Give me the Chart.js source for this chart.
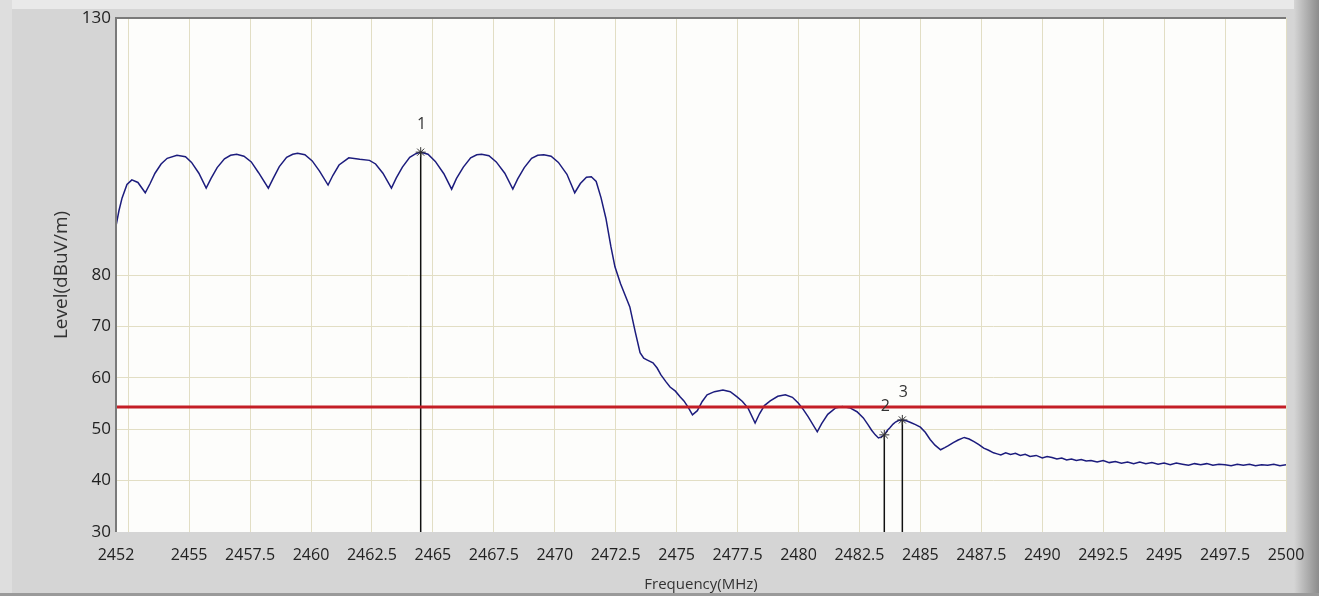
<!DOCTYPE html>
<html>
<head>
<meta charset="utf-8">
<script src="https://cdn.jsdelivr.net/npm/chart.js@4/dist/chart.umd.min.js"></script>
<style>
  html, body { margin: 0; padding: 0; background: #d4d4d4; }
  canvas { display: block; }
</style>
</head>
<body>
<canvas id="spectrumChart" width="1319" height="596"></canvas>
<script>
// Measured trace (frequency in MHz, level in dBuV/m)
const freqs = [
    2452.00, 2452.12, 2452.25, 2452.45, 2452.65, 2452.90, 2453.20, 2453.40, 2453.60, 2453.85,
    2454.10, 2454.50, 2454.85, 2455.10, 2455.40, 2455.70, 2455.90, 2456.15, 2456.45, 2456.70,
    2456.95, 2457.25, 2457.55, 2457.85, 2458.25, 2458.45, 2458.70, 2459.00, 2459.25, 2459.45,
    2459.75, 2460.05, 2460.35, 2460.70, 2460.90, 2461.15, 2461.55, 2462.00, 2462.40, 2462.65,
    2462.95, 2463.30, 2463.50, 2463.75, 2464.05, 2464.30, 2464.50, 2464.80, 2465.10, 2465.45,
    2465.77, 2465.97, 2466.25, 2466.55, 2466.80, 2467.00, 2467.30, 2467.60, 2467.95, 2468.28,
    2468.48, 2468.75, 2469.05, 2469.30, 2469.55, 2469.85, 2470.15, 2470.50, 2470.82, 2471.05,
    2471.30, 2471.50, 2471.70, 2471.90, 2472.10, 2472.30, 2472.47, 2472.70, 2472.90, 2473.08,
    2473.30, 2473.50, 2473.65, 2473.78, 2474.03, 2474.20, 2474.35, 2474.55, 2474.73, 2474.95,
    2475.14, 2475.30, 2475.47, 2475.65, 2475.85, 2476.05, 2476.25, 2476.55, 2476.90, 2477.20,
    2477.48, 2477.70, 2477.93, 2478.22, 2478.40, 2478.60, 2478.84, 2479.15, 2479.46, 2479.75,
    2479.99, 2480.20, 2480.40, 2480.77, 2480.95, 2481.20, 2481.51, 2481.80, 2482.13, 2482.40,
    2482.66, 2482.85, 2483.00, 2483.15, 2483.28, 2483.40, 2483.52, 2483.65, 2483.75, 2483.88,
    2483.98, 2484.10, 2484.26, 2484.45, 2484.60, 2484.80, 2485.00, 2485.20, 2485.40, 2485.60,
    2485.83, 2486.00, 2486.15, 2486.35, 2486.55, 2486.80, 2487.00, 2487.20, 2487.40, 2487.60,
    2487.80, 2488.00, 2488.15, 2488.30, 2488.50, 2488.70, 2488.90, 2489.10, 2489.30, 2489.50,
    2489.75, 2490.00, 2490.20, 2490.40, 2490.60, 2490.80, 2491.00, 2491.20, 2491.40, 2491.60,
    2491.80, 2492.00, 2492.25, 2492.50, 2492.75, 2493.00, 2493.25, 2493.50, 2493.75, 2494.00,
    2494.25, 2494.50, 2494.75, 2495.00, 2495.25, 2495.50, 2495.75, 2496.00, 2496.25, 2496.50,
    2496.75, 2497.00, 2497.25, 2497.50, 2497.75, 2498.00, 2498.25, 2498.50, 2498.75, 2499.00,
    2499.25, 2499.50, 2499.75, 2500.00
];
const levels = [
    89.5, 92.5, 95.0, 97.6, 98.5, 98.0, 96.0, 97.8, 99.8, 101.6,
    102.7, 103.3, 103.0, 101.9, 99.8, 96.9, 98.8, 100.9, 102.6, 103.3,
    103.5, 103.1, 102.0, 99.9, 96.9, 98.8, 101.1, 102.9, 103.5, 103.7,
    103.4, 102.2, 100.2, 97.5, 99.4, 101.4, 102.8, 102.5, 102.3, 101.6,
    99.8, 96.9, 98.9, 101.0, 102.9, 103.6, 103.9, 103.5, 102.1, 99.7,
    96.7, 98.8, 101.0, 102.8, 103.4, 103.5, 103.2, 102.0, 99.8, 96.7,
    98.7, 100.9, 102.7, 103.3, 103.4, 103.1, 101.9, 99.6, 96.0, 97.8,
    99.0, 99.1, 98.2, 95.0, 91.0, 85.6, 81.6, 78.3, 75.9, 73.8,
    69.0, 64.9, 63.8, 63.5, 62.9, 61.9, 60.6, 59.3, 58.2, 57.4,
    56.3, 55.5, 54.3, 52.8, 53.6, 55.4, 56.7, 57.3, 57.6, 57.3,
    56.3, 55.4, 54.1, 51.2, 53.0, 54.6, 55.5, 56.4, 56.7, 56.2,
    55.1, 53.8, 52.4, 49.5, 51.1, 52.9, 54.1, 54.4, 54.1, 53.4,
    52.2, 50.9, 49.8, 48.9, 48.3, 48.5, 48.9, 49.8, 50.3, 51.0,
    51.4, 51.7, 51.8, 51.6, 51.3, 50.9, 50.4, 49.4, 48.0, 46.9,
    46.0, 46.4, 46.8, 47.4, 47.9, 48.4, 48.1, 47.6, 47.0, 46.3,
    45.9, 45.4, 45.2, 45.0, 45.4, 45.1, 45.3, 44.9, 45.1, 44.7,
    44.9, 44.4, 44.7, 44.5, 44.2, 44.4, 44.0, 44.2, 43.9, 44.1,
    43.8, 43.9, 43.6, 43.9, 43.5, 43.7, 43.4, 43.6, 43.3, 43.6,
    43.3, 43.5, 43.2, 43.4, 43.1, 43.4, 43.2, 43.0, 43.3, 43.1,
    43.3, 43.0, 43.2, 43.1, 42.9, 43.2, 43.0, 43.2, 42.9, 43.1,
    43.0, 43.2, 42.9, 43.1
];

// Limit line
const limitLevel = 54.3;

// Markers
const markerNames = ["1", "2", "3"];
const markerFreqs = [2464.5, 2483.52, 2484.26];
const markerLevels = [103.9, 48.9, 51.8];

// Axis ticks
const xTicks = [2452, 2452.5, 2455, 2457.5, 2460, 2462.5, 2465, 2467.5, 2470, 2472.5, 2475,
    2477.5, 2480, 2482.5, 2485, 2487.5, 2490, 2492.5, 2495, 2497.5, 2500];
const xHiddenLabels = [2452.5];
const yTicks = [30, 40, 50, 60, 70, 80, 130];

const gridColor = "rgb(226, 222, 196)";
const fontFamily = "'Open Sans', 'Noto Sans', sans-serif";

const traceData = freqs.map((f, i) => ({ x: f, y: levels[i] }));

const datasets = [
    {
        label: "Limit",
        data: [{ x: 2452, y: limitLevel }, { x: 2500, y: limitLevel }],
        borderColor: "rgb(196, 30, 38)",
        borderWidth: 3,
        pointRadius: 0,
        order: 0,
    },
];

markerFreqs.forEach((f, i) => {
    datasets.push({
        label: "Marker " + markerNames[i],
        data: [{ x: f, y: 30 }, { x: f, y: markerLevels[i] }],
        borderColor: "#111",
        borderWidth: 1.5,
        pointRadius: [0, 5],
        pointStyle: "star",
        pointBorderColor: "#333",
        pointBorderWidth: 1,
        order: 1,
    });
});

datasets.push({
    label: "Level",
    data: traceData,
    borderColor: "rgb(28, 28, 125)",
    borderWidth: 1.5,
    pointRadius: 0,
    order: 2,
});

// Background, frame and plot area
const framePlugin = {
    id: "frame",
    beforeDraw(chart) {
        const { ctx, chartArea } = chart;
        const w = chart.width, h = chart.height;
        ctx.save();
        ctx.fillStyle = "#d5d5d5";
        ctx.fillRect(0, 0, w, h);
        ctx.fillStyle = "#e9e9e9";
        ctx.fillRect(0, 0, w, 9);
        ctx.fillStyle = "#dedede";
        ctx.fillRect(0, 0, 12, h);
        const g = ctx.createLinearGradient(1294, 0, w, 0);
        g.addColorStop(0, "#d5d5d5");
        g.addColorStop(1, "#8c8c8c");
        ctx.fillStyle = g;
        ctx.fillRect(1294, 0, w - 1294, h);
        ctx.fillStyle = "#9a9a9a";
        ctx.fillRect(0, h - 3, w, 3);
        ctx.fillStyle = "#fdfdfb";
        ctx.fillRect(chartArea.left, chartArea.top, chartArea.right - chartArea.left, chartArea.bottom - chartArea.top);
        ctx.restore();
    },
    afterDraw(chart) {
        const { ctx, chartArea } = chart;
        ctx.save();
        ctx.strokeStyle = "#7a7a7a";
        ctx.lineWidth = 2;
        ctx.beginPath();
        ctx.moveTo(chartArea.left, chartArea.bottom);
        ctx.lineTo(chartArea.left, chartArea.top);
        ctx.lineTo(chartArea.right, chartArea.top);
        ctx.stroke();
        ctx.restore();
    },
};

// Marker numbers above each marker
const markerLabelPlugin = {
    id: "markerLabels",
    afterDatasetsDraw(chart) {
        const { ctx, scales } = chart;
        ctx.save();
        ctx.font = "16px " + fontFamily;
        ctx.fillStyle = "#333";
        ctx.textAlign = "center";
        ctx.textBaseline = "middle";
        markerFreqs.forEach((f, i) => {
            const px = scales.x.getPixelForValue(f);
            const py = scales.y.getPixelForValue(markerLevels[i]);
            ctx.fillText(markerNames[i], px + 1, py - 28);
        });
        ctx.restore();
    },
};

new Chart(document.getElementById("spectrumChart"), {
    type: "line",
    data: { datasets },
    options: {
        responsive: false,
        animation: false,
        layout: { padding: { top: 18, right: 33, left: 0, bottom: 0 } },
        plugins: {
            legend: { display: false },
            tooltip: { enabled: false },
        },
        scales: {
            x: {
                type: "linear",
                min: 2452,
                max: 2500,
                afterBuildTicks: (scale) => {
                    scale.ticks = xTicks.map((v) => ({ value: v }));
                },
                afterFit: (scale) => {
                    scale.height = 64;
                },
                ticks: {
                    autoSkip: false,
                    maxRotation: 0,
                    padding: 14,
                    color: "#222",
                    font: { family: fontFamily, size: 16 },
                    callback: (v) => (xHiddenLabels.includes(v) ? "" : String(v)),
                },
                grid: { color: gridColor, lineWidth: 1, drawTicks: false },
                border: { display: false },
                title: {
                    display: true,
                    text: "Frequency(MHz)",
                    color: "#333",
                    font: { family: fontFamily, size: 15 },
                    padding: { top: 2, bottom: 2 },
                },
            },
            y: {
                type: "linear",
                min: 30,
                max: 130,
                afterBuildTicks: (scale) => {
                    scale.ticks = yTicks.map((v) => ({ value: v }));
                },
                afterFit: (scale) => {
                    scale.width = 116;
                },
                ticks: {
                    autoSkip: false,
                    padding: 5,
                    color: "#222",
                    font: { family: fontFamily, size: 17 },
                },
                grid: {
                    color: (c) => (c.tick && (c.tick.value === 30 || c.tick.value === 130) ? "rgba(0,0,0,0)" : gridColor),
                    lineWidth: 1,
                    drawTicks: false,
                },
                border: { display: false },
                title: {
                    display: true,
                    text: "Level(dBuV/m)",
                    color: "#333",
                    font: { family: fontFamily, size: 19 },
                    padding: { top: 50, bottom: 4 },
                },
            },
        },
    },
    plugins: [framePlugin, markerLabelPlugin],
});
</script>
</body>
</html>
